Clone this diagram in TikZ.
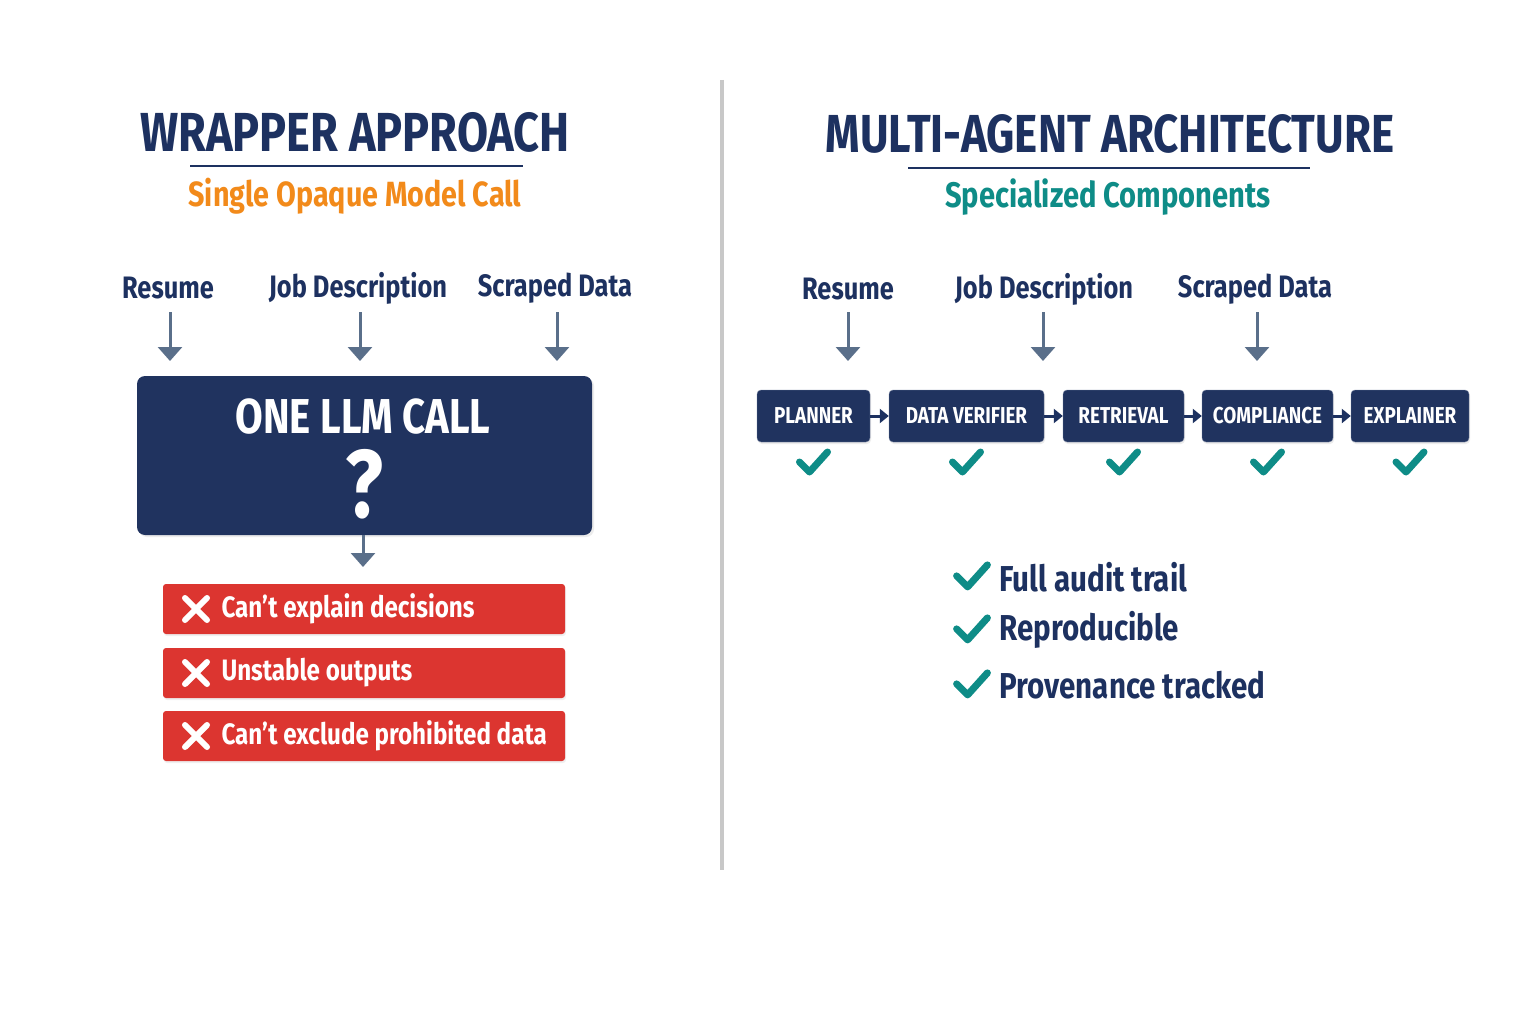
\documentclass[tikz,border=0pt]{standalone}
\usepackage{fontspec}
\setmainfont{Fira Sans}[FakeStretch=0.82]
\usetikzlibrary{arrows.meta,shadows}

\definecolor{navy}{HTML}{1D3160}
\definecolor{boxnavy}{HTML}{20335F}
\definecolor{orangesub}{HTML}{F28A1A}
\definecolor{tealok}{HTML}{0E8C87}
\definecolor{failred}{HTML}{DC3530}
\definecolor{arrowgray}{HTML}{5A6F8A}
\definecolor{divgray}{HTML}{C8C8C8}

\tikzset{
  title/.style={font=\fontsize{55}{58}\selectfont\bfseries, text=navy},
  subtitle/.style={font=\fontsize{35}{40}\selectfont\bfseries},
  inlabel/.style={font=\fontsize{31}{34}\selectfont\bfseries, text=navy},
  inarrow/.style={draw=arrowgray, line width=3pt, -{Triangle[width=24pt,length=14pt]}},
  llmbox/.style={fill=boxnavy, rounded corners=8pt, minimum width=455pt, minimum height=159pt,
    drop shadow={opacity=0.15, shadow xshift=2pt, shadow yshift=-2pt}},
  failbox/.style={fill=failred, rounded corners=3pt, minimum width=402pt, minimum height=50pt,
    drop shadow={opacity=0.12, shadow xshift=1pt, shadow yshift=-2pt}},
  failtext/.style={font=\fontsize{29.5}{34}\selectfont\bfseries, text=white, anchor=west},
  agent/.style={fill=boxnavy, draw=navy!60!white, rounded corners=4pt, minimum height=52pt,
    inner sep=0pt, font=\fontsize{23}{28}\selectfont\bfseries, text=white,
    drop shadow={opacity=0.15, shadow xshift=1pt, shadow yshift=-2pt}},
  agentarrow/.style={draw=navy, line width=3pt, -{Triangle[width=14pt,length=9pt]}},
  goodtext/.style={font=\fontsize{36}{40}\selectfont\bfseries, text=navy, anchor=west},
  okmark/.pic={\draw[tealok, line width=7pt, line cap=round, line join=round]
    (-14,-1) -- (-4,9) -- (14,-11);},
  nomark/.pic={\draw[white, line width=6pt, line cap=round]
    (-11,-11) -- (11,11) (-11,11) -- (11,-11);},
}

\begin{document}
\begin{tikzpicture}[x=1pt, y=-1pt]
  \useasboundingbox[fill=white] (0,0) rectangle (1536,1024);

  % divider
  \draw[divgray, line width=4pt] (722,80) -- (722,870);

  % ---- wrapper approach
  \node[title] (wtitle) at (355,132) {WRAPPER APPROACH};
  \draw[navy, line width=1.5pt] (190,166) -- (523,166);
  \node[subtitle, text=orangesub] (wsub) at (355,196) {Single Opaque Model Call};

  \foreach \x/\nm/\lab in {168/wres/Resume, 358/wjob/Job Description, 555/wscr/Scraped Data}
    \node[inlabel] (\nm) at (\x,288) {\lab};

  \node[llmbox] (llm) at (364.5,455.5) {};
  \node[font=\fontsize{49}{52}\selectfont\bfseries, text=white] (llmtxt) at (363,417) {ONE LLM CALL};
  \node[font=\fontsize{96}{100}\selectfont\bfseries, text=white] (llmq) at (364,484) {?};

  \foreach \nm/\x in {wres/170, wjob/360, wscr/557}
    \draw[inarrow] (\x,312) -- (\x,361);
  \coordinate (llmout) at (363,567);
  \draw[inarrow] (llm.south -| llmout) -- (llmout);

  \foreach \y/\nm/\lab in {609/fail1/Can’t explain decisions,
      673/fail2/Unstable outputs,
      736/fail3/Can’t exclude prohibited data}{
    \node[failbox] (\nm) at (364,\y) {};
    \pic at (196,\y) {nomark};
    \node[failtext] (\nm txt) at (218,\y) {\lab};
  }

  % ---- multi-agent architecture
  \node[title, font=\fontsize{53.5}{58}\selectfont\bfseries] (mtitle) at (1110,134) {MULTI-AGENT ARCHITECTURE};
  \draw[navy, line width=1.5pt] (908,168) -- (1310,168);
  \node[subtitle, font=\fontsize{35.5}{40}\selectfont\bfseries, text=tealok] (msub) at (1108,197) {Specialized Components};

  \foreach \x/\nm/\lab in {848/mres/Resume, 1044/mjob/Job Description, 1255/mscr/Scraped Data}
    \node[inlabel] (\nm) at (\x,289) {\lab};
  \foreach \x in {848, 1043, 1257}
    \draw[inarrow] (\x,312) -- (\x,361);

  \foreach \x/\w/\nm/\lab in {813.5/113/planner/PLANNER,
      966.5/155/verifier/DATA VERIFIER,
      1123.5/121/retrieval/RETRIEVAL,
      1267.5/131/compliance/COMPLIANCE,
      1410/118/explainer/EXPLAINER}{
    \node[agent, minimum width=\w pt] (\nm) at (\x,416) {\lab};
    \pic at (\nm.south |- 0,463) {okmark};
  }
  \draw[agentarrow] (planner) -- (verifier);
  \draw[agentarrow] (verifier) -- (retrieval);
  \draw[agentarrow] (retrieval) -- (compliance);
  \draw[agentarrow] (compliance) -- (explainer);

  \foreach \y/\nm/\lab in {577/good1/Full audit trail,
      630/good2/Reproducible,
      685/good3/Provenance tracked}{
    \pic[scale=1.1] at (972,\y) {okmark};
    \node[goodtext] (\nm) at (996,\y) {\lab};
  }
\end{tikzpicture}
\end{document}
